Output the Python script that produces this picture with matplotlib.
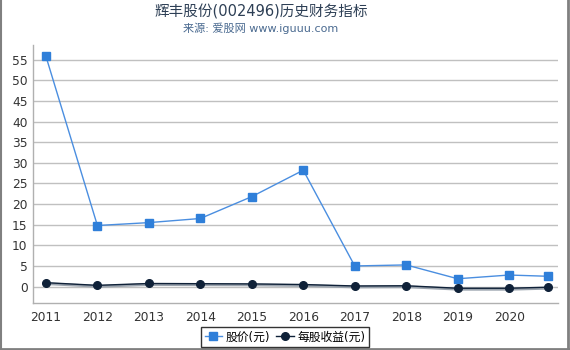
import matplotlib
matplotlib.use("Agg")
import matplotlib.pyplot as plt
from matplotlib.lines import Line2D

plt.rcParams['font.family'] = ['DejaVu Sans', 'Noto Sans CJK SC']

x_pos = [2011, 2012, 2013, 2014, 2015, 2016, 2017, 2018, 2019, 2020, 2020.75]
price = [55.8, 14.8, 15.5, 16.5, 21.8, 28.2, 5.0, 5.25, 1.9, 2.8, 2.5]
eps = [0.95, 0.3, 0.75, 0.7, 0.65, 0.5, 0.15, 0.2, -0.4, -0.4, -0.15]
xtick_vals = [2011, 2012, 2013, 2014, 2015, 2016, 2017, 2018, 2019, 2020]
xtick_labels = ['2011', '2012', '2013', '2014', '2015', '2016', '2017', '2018', '2019', '2020']
ytick_vals = [0, 5, 10, 15, 20, 25, 30, 35, 40, 45, 50, 55]

fig = plt.figure(figsize=(5.7, 3.5), dpi=100)
ax = fig.add_axes([0.058, 0.134, 0.921, 0.737])

ax.set_xlim(2010.75, 2020.95)
ax.set_ylim(-4, 58.5)
ax.set_yticks(ytick_vals)
ax.set_xticks(xtick_vals)
ax.set_xticklabels(xtick_labels)
ax.grid(axis='y', color='#c0c0c0', linewidth=1)
ax.set_axisbelow(True)
for s in ['top', 'right']:
    ax.spines[s].set_visible(False)
for s in ['left', 'bottom']:
    ax.spines[s].set_color('#b0b0b0')
    ax.spines[s].set_linewidth(1)
ax.tick_params(axis='both', length=0, labelsize=8.8, colors='#333333', pad=4)
ax.tick_params(axis='x', pad=6)

price_color = '#2f7fd9'
eps_color = '#0f2138'

ax.plot(x_pos, price, color='#4a8ee0', linewidth=1, zorder=3)
ax.plot(x_pos, price, linestyle='none', marker='s', markersize=5.5,
        color=price_color, zorder=4)
ax.plot([v + 0.02 for v in x_pos], [v - 0.25 for v in eps], color='#9aa3ad',
        linewidth=2, zorder=2)
ax.plot(x_pos, eps, color=eps_color, linewidth=1, zorder=3)
ax.plot(x_pos, eps, linestyle='none', marker='o', markersize=5.5,
        color=eps_color, zorder=4)

fig.text(0.458, 0.967, '辉丰股份(002496)历史财务指标', ha='center', va='center',
         fontsize=10.5, color='#2d3f55')
fig.text(0.458, 0.918, '来源: 爱股网 www.iguuu.com', ha='center', va='center',
         fontsize=8, color='#4a6a90')

handles = [
    Line2D([0], [0], color='#4a8ee0', linewidth=1, marker='s', markersize=5.5,
           markerfacecolor=price_color, markeredgecolor=price_color),
    Line2D([0], [0], color=eps_color, linewidth=1, marker='o', markersize=5.5,
           markerfacecolor=eps_color, markeredgecolor=eps_color),
]
leg = fig.legend(handles, ['股价(元)', '每股收益(元)'], loc='center',
                 bbox_to_anchor=(0.5, 0.037), ncol=2, fontsize=8.5,
                 frameon=True, fancybox=False, handlelength=1.5,
                 handletextpad=0.3, columnspacing=0.5, borderpad=0.3,
                 borderaxespad=0)
leg.get_frame().set_edgecolor('black')
leg.get_frame().set_linewidth(1)

# figure border
fig.add_artist(plt.Line2D([0.002, 0.002], [0, 1], color='#808080', linewidth=1.5,
                          transform=fig.transFigure))
fig.add_artist(plt.Line2D([0.997, 0.997], [0, 1], color='#808080', linewidth=2,
                          transform=fig.transFigure))
fig.add_artist(plt.Line2D([0, 1], [0.004, 0.004], color='#808080', linewidth=2,
                          transform=fig.transFigure))

fig.savefig('out.png', dpi=100)
